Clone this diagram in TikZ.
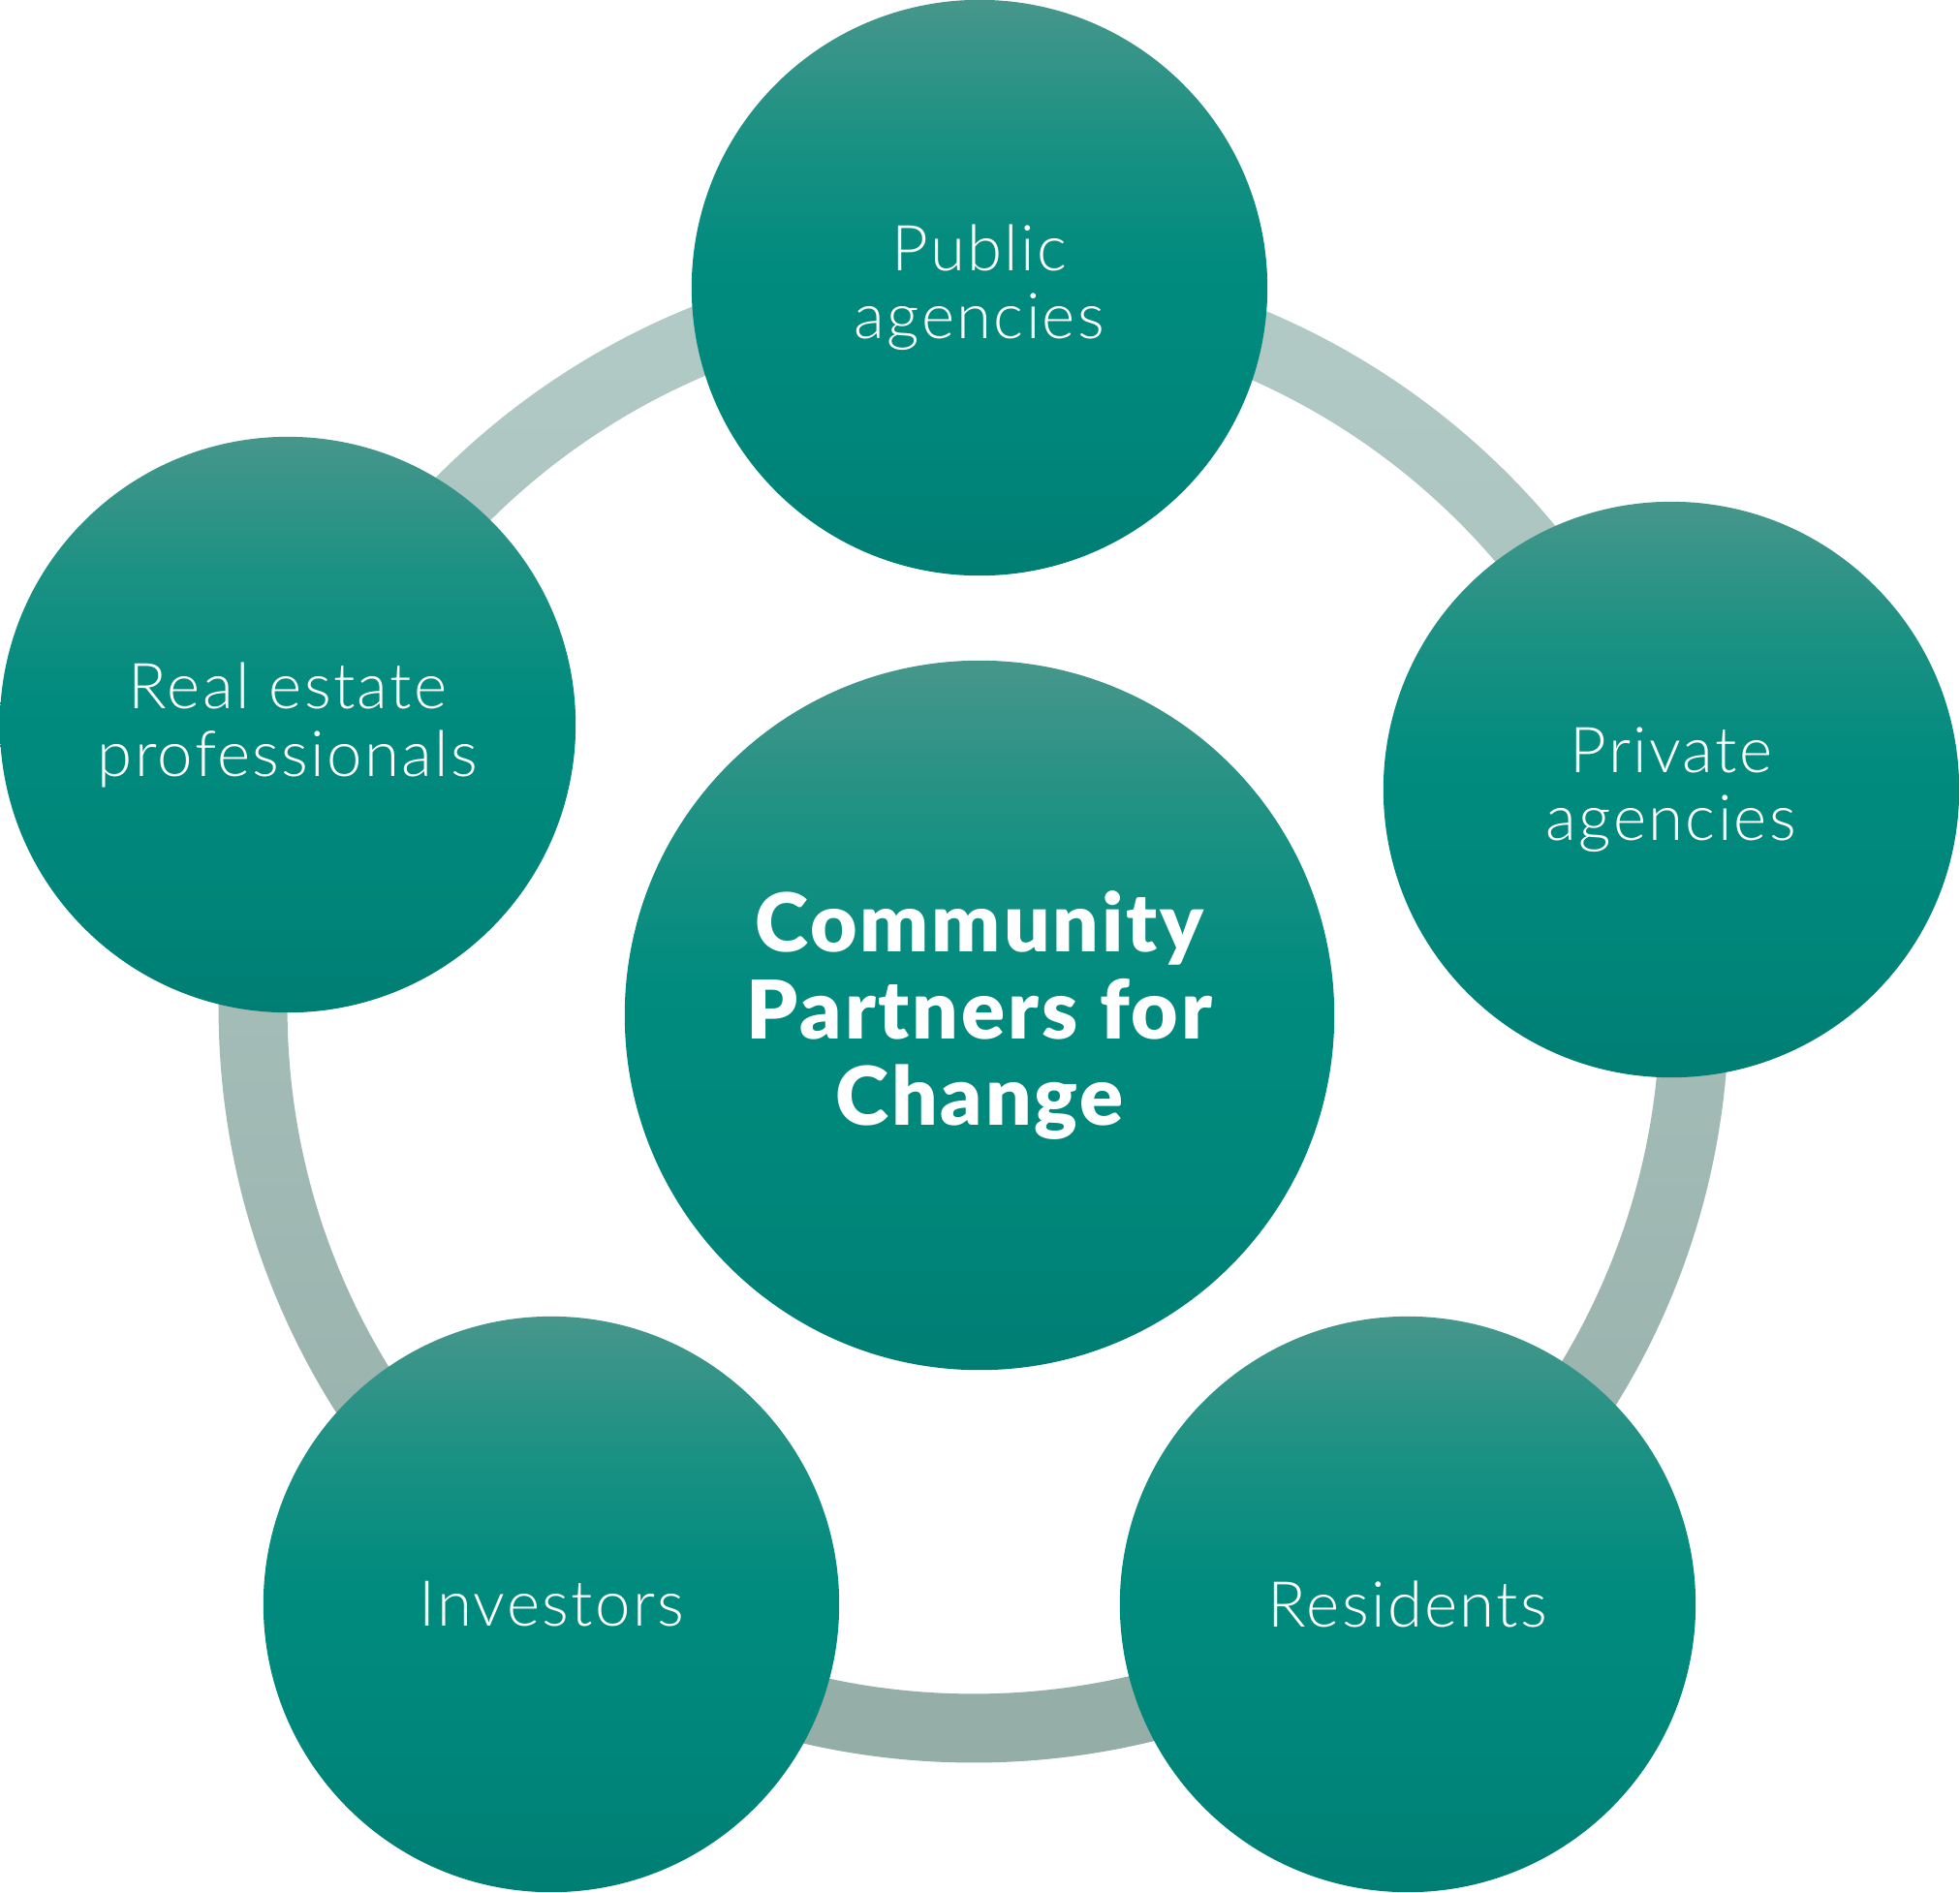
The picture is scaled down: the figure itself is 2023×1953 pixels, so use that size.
\documentclass[tikz,border=0pt]{standalone}
\usepackage{fontspec}
\setmainfont{Lato}
\newfontfamily\lightfont{Lato Light}[LetterSpace=3.5]
\newfontfamily\heavyfont{Lato Black}[LetterSpace=3.5]
\definecolor{ringtop}{HTML}{B3CBC6}
\definecolor{ringbot}{HTML}{94ADA7}
\definecolor{ctop}{HTML}{47968B}
\definecolor{cqtr}{HTML}{1A9183}
\definecolor{cmid}{HTML}{008B7E}
\definecolor{clow}{HTML}{00867A}
\definecolor{cbot}{HTML}{007E74}
\pgfdeclareverticalshading{tealshade}{100bp}{color(0bp)=(cbot); color(25bp)=(cbot);
  color(37.5bp)=(clow); color(52bp)=(cmid); color(63bp)=(cqtr); color(75bp)=(ctop); color(100bp)=(ctop)}
\tikzset{
  partner/.style={circle, minimum size=5.94cm, inner sep=0pt, draw=none,
    shading=tealshade,
    text=white, align=center, font=\lightfont\fontsize{18.6}{19.9}\selectfont},
  hub/.style={circle, minimum size=7.32cm, inner sep=0pt, draw=none,
    shading=tealshade,
    text=white, align=center, font=\heavyfont\fontsize{23.8}{25.5}\selectfont},
}
\begin{document}
\begin{tikzpicture}[x=0.01cm, y=-0.01cm]
\useasboundingbox (0,0) rectangle (2023,1953);
\coordinate (rc) at (1005,1040);
\shade[top color=ringtop, bottom color=ringbot, even odd rule]
  (rc) circle[radius=7.79cm] (rc) circle[radius=7.08cm];
\node[hub] (center) at (1011,1048) {Community\\Partners for\\Change};
\node[partner] (public) at (1011,297) {Public\\agencies};
\node[partner] (private) at (1725,815) {Private\\agencies};
\node[partner] (residents) at (1453,1656) {Residents};
\node[partner] (investors) at (569,1656) {Investors};
\node[partner] (realestate) at (297,748) {Real estate\\professionals};
\end{tikzpicture}
\end{document}
